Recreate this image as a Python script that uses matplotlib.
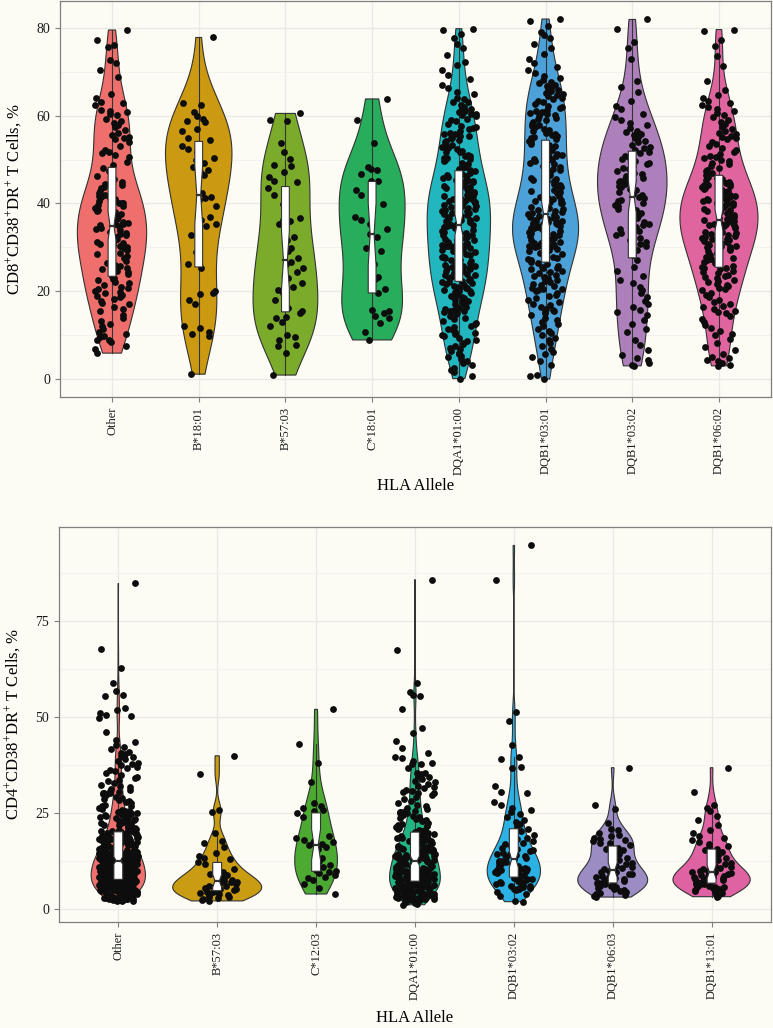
"""
Violin + notched box + jitter plots of activated T-cell percentages by HLA allele.
"""
import numpy as np
import matplotlib
matplotlib.use("Agg")
import matplotlib.pyplot as plt

plt.rcParams["font.family"] = ["Liberation Serif", "DejaVu Serif"]
plt.rcParams["mathtext.fontset"] = "custom"
plt.rcParams["mathtext.rm"] = "Liberation Serif"
plt.rcParams["mathtext.it"] = "Liberation Serif:italic"

# ---------------------------------------------------------------- data (top)
top_labels = ["Other", "B*18:01", "B*57:03", "C*18:01",
              "DQA1*01:00", "DQB1*03:01", "DQB1*03:02", "DQB1*06:02"]
top_colors = ["#ee6f6b", "#cc9a10", "#7bab2b", "#27ad5b",
              "#22b6bf", "#4ca1d9", "#ad80bb", "#e0659f"]

top_other = [79.5, 77.2, 76.1, 75.6, 72.6, 72.0, 70.3, 68.8, 65.0,
             64.1, 63.2, 62.8, 62.5, 61.3, 61.0, 60.8, 60.4, 60.2,
             59.3, 58.8, 58.4, 57.9, 57.4, 56.8, 56.0, 55.6, 55.2, 55.0,
             54.6, 54.1, 53.0, 52.2, 51.8, 51.5, 51.0, 50.5,
             49.4, 48.8, 48.0, 47.4, 46.2, 45.6,
             44.8, 44.5, 44.1, 43.8, 43.2, 42.9, 42.4, 42.0, 41.7, 41.5, 41.2,
             40.9, 40.6, 40.4, 40.2, 40.0, 40.1, 43.5,
             39.6, 39.3, 39.0, 38.6, 38.3, 38.0, 37.6, 37.2, 36.8, 36.5, 36.1,
             35.8, 35.6, 35.4, 35.2, 35.0,
             34.8, 34.5, 34.2, 33.9, 33.6, 33.3, 33.0, 32.7, 32.4, 32.1, 31.8,
             31.5, 31.2, 31.0, 30.8, 30.6, 30.4, 30.3, 30.2, 30.1,
             29.8, 29.5, 29.1, 28.8, 28.4, 28.0, 27.6, 27.2, 26.8, 26.4, 26.0,
             25.7, 25.4, 25.1,
             24.7, 24.3, 23.9, 23.5, 23.1, 22.8, 22.5, 22.1, 21.8, 21.4, 21.0,
             20.7, 20.4, 20.1,
             19.8, 19.5, 19.2, 18.9, 18.6, 18.2, 17.8, 17.4, 17.0, 16.5, 16.0, 15.4,
             14.5, 13.8, 13.2, 12.6, 12.1, 11.5, 10.8, 10.2,
             9.8, 9.5, 9.0, 8.8, 8.4, 7.6, 6.8, 5.9]
top_b1801 = [77.8, 62.8, 62.4, 60.8, 60.0, 59.3, 58.8, 58.5, 57.0, 56.6, 54.8,
             54.5, 53.0, 52.5, 51.8, 50.3, 49.8, 49.2, 48.4, 47.5, 46.9, 46.5,
             42.3, 41.5, 41.2, 40.8, 39.3, 37.0, 36.3, 35.2, 34.8, 32.9, 29.0,
             26.2, 25.3, 20.0, 19.6, 19.3, 18.0, 17.0, 12.1, 11.7, 10.6, 10.2,
             9.9, 1.1]
top_b5703 = [60.5, 59.0, 58.7, 53.7, 51.6, 50.2, 48.7, 48.5, 47.2, 46.0, 45.1,
             44.9, 43.5, 42.0, 39.9, 36.6, 36.2, 36.0, 35.3, 32.3, 31.7, 29.8,
             29.2, 27.5, 26.7, 26.1, 25.2, 24.4, 22.9, 21.8, 21.0, 20.2, 19.5,
             17.9, 16.1, 15.4, 15.0, 14.2, 13.9, 13.1, 12.1, 10.1, 9.5, 8.9,
             7.8, 7.5, 6.0, 0.9]
top_c1801 = [63.8, 59.0, 53.7, 48.2, 47.8, 47.6, 46.7, 45.1, 45.0, 43.0, 41.9,
             39.9, 36.9, 36.2, 35.4, 34.1, 33.0, 32.3, 29.8, 29.2, 26.1, 23.3,
             22.7, 20.5, 19.6, 15.7, 15.4, 15.0, 14.4, 13.8, 12.8, 10.8, 8.9]
top_dqa1 = [79.8, 79.4, 78.7, 77.6, 76.4, 75.3, 73.9, 72.3, 71.5, 70.4,
            69.2, 68.4, 67.0, 66.3, 65.4,
            64.9, 64.1, 63.8, 63.2, 63.1, 62.4, 62.0, 61.7, 61.4, 61.1, 60.9,
            60.4, 60.3, 60.1,
            59.8, 59.3, 58.9, 58.8, 58.1, 57.6, 57.3, 57.2, 56.6, 56.1, 55.9,
            55.8, 55.4, 55.3, 55.0, 56.9,
            54.8, 54.4, 54.2, 53.9, 53.3, 53.1, 52.6, 52.5, 52.0, 51.7, 51.6,
            51.1, 50.9, 50.8, 50.4, 50.3, 50.1, 52.9,
            49.8, 49.6, 49.2, 49.0, 48.7, 48.3, 48.2, 47.8, 47.5, 47.3, 46.9,
            46.8, 46.4, 46.2, 46.1, 45.7, 45.6, 45.3, 45.2, 45.0,
            44.9, 44.8, 44.5, 44.3, 44.2, 43.9, 43.8, 43.6, 43.4, 43.3, 43.0,
            42.9, 42.7, 42.5, 42.4, 42.1, 42.0, 41.8, 41.7, 41.4, 41.3, 41.1,
            41.0, 40.9, 40.7, 40.6, 40.5, 40.3, 40.3, 40.2, 40.1, 40.0,
            39.9, 39.6, 39.5, 39.4, 39.1, 39.0, 38.7, 38.6, 38.3, 38.2, 37.9,
            37.8, 37.5, 37.4, 37.1, 37.0, 36.7, 36.6, 36.3, 36.2, 35.9, 35.8,
            35.7, 35.6, 35.4, 35.4, 35.3, 35.1, 35.1, 35.0,
            34.9, 34.6, 34.5, 34.1, 34.0, 33.7, 33.6, 33.3, 33.2, 32.9, 32.8,
            32.5, 32.4, 32.1, 32.0, 31.7, 31.6, 31.3, 31.2, 31.0, 30.9, 30.8,
            30.7, 30.5, 30.5, 30.4, 30.3, 30.2, 30.1, 30.0,
            29.8, 29.6, 29.3, 29.1, 28.9, 28.6, 28.4, 28.2, 27.9, 27.7, 27.5,
            27.2, 27.0, 26.8, 26.6, 26.4, 26.2, 26.0, 25.8, 25.7, 25.5, 25.4,
            25.3, 25.2, 25.1, 25.0,
            24.9, 24.7, 24.5, 24.2, 24.0, 23.8, 23.6, 23.4, 23.2, 23.0, 22.8,
            22.6, 22.4, 22.2, 22.0, 21.8, 21.6, 21.4, 21.2, 21.0, 20.8, 20.7,
            20.5, 20.4, 20.3, 20.1, 20.0,
            19.8, 19.5, 19.2, 19.0, 18.7, 18.4, 18.1, 17.8, 17.5, 17.3, 17.0,
            16.8, 16.5, 16.2, 16.0, 15.8, 15.6, 15.4, 15.2, 15.0,
            14.7, 14.3, 13.9, 13.6, 13.2, 12.8, 12.5, 12.1, 11.8, 11.4, 11.1,
            10.8, 10.5, 10.3, 10.0,
            9.7, 9.3, 8.9, 8.6, 8.2, 7.9, 7.5, 7.1, 6.8, 6.4, 6.0, 5.7, 5.3, 5.0,
            4.6, 4.1, 3.6, 3.1, 2.6, 2.1, 1.5, 0.8, 0.1]
top_dqb0301 = [82.0, 81.6, 80.4, 79.1, 78.4, 77.6, 76.2, 75.3,
               74.1, 72.8, 71.9, 71.0, 70.3,
               69.6, 69.0, 68.6, 68.1, 67.7, 67.4, 67.0, 66.7, 66.3, 66.0, 65.8,
               65.5, 65.2, 65.0,
               64.8, 64.5, 64.1, 63.8, 63.4, 63.0, 62.7, 62.3, 62.0, 61.7, 61.3,
               61.0, 60.8, 60.5, 60.3, 60.1,
               59.8, 59.5, 59.2, 58.9, 58.5, 58.2, 57.9, 57.6, 57.3, 57.0, 56.7,
               56.4, 56.1, 55.8, 55.6, 55.4, 55.2, 55.0,
               54.7, 54.3, 54.0, 53.6, 53.3, 53.0, 52.6, 52.2, 51.9, 51.6, 51.3,
               51.0, 50.7, 50.5, 50.2, 50.0,
               49.7, 49.3, 49.0, 48.6, 48.2, 47.9, 47.5, 47.1, 46.8, 46.5, 46.2,
               45.9, 45.6, 45.4, 45.2, 45.0,
               44.8, 44.5, 44.2, 44.0, 43.7, 43.4, 43.1, 42.8, 42.5, 42.3, 42.0,
               41.8, 41.5, 41.3, 41.0, 40.8, 40.6, 40.4, 40.2, 40.0,
               39.8, 39.6, 39.4, 39.2, 39.0, 38.7, 38.5, 38.3, 38.0, 37.8, 37.6,
               37.4, 37.2, 37.0, 36.8, 36.6, 36.4, 36.2, 36.0, 35.9, 35.8, 35.7,
               35.6, 35.5, 35.4, 35.3, 35.2, 35.1, 35.0, 35.0,
               34.9, 34.7, 34.5, 34.3, 34.1, 33.9, 33.7, 33.5, 33.3, 33.1, 32.9,
               32.7, 32.5, 32.3, 32.1, 31.9, 31.7, 31.5, 31.3, 31.1, 30.9, 30.8,
               30.7, 30.6, 30.5, 30.4, 30.3, 30.3, 30.2, 30.1, 30.0, 31.0,
               29.7, 29.4, 29.1, 28.8, 28.5, 28.2, 27.9, 27.6, 27.3, 27.0, 26.7,
               26.4, 26.1, 25.8, 25.6, 25.4, 25.2, 25.0,
               24.7, 24.4, 24.1, 23.8, 23.5, 23.2, 22.9, 22.6, 22.3, 22.0, 21.7,
               21.4, 21.1, 20.8, 20.6, 20.4, 20.2, 20.0,
               19.6, 19.2, 18.8, 18.4, 18.0, 17.6, 17.2, 16.8, 16.4, 16.0, 15.7,
               15.4, 15.2, 15.0,
               14.5, 14.0, 13.5, 13.0, 12.5, 12.0, 11.5, 11.0, 10.5, 10.0,
               9.4, 8.8, 8.1, 7.5, 6.9, 6.2, 5.6, 5.0,
               4.2, 3.3, 1.0, 0.8, 0.0]
top_dqb0302 = [81.9, 79.8, 76.8, 75.5, 73.0, 67.9, 66.5, 65.3,
               63.4, 62.1, 61.5, 60.4,
               59.7, 59.0, 58.4, 57.8, 57.1, 56.6, 56.2, 55.8, 55.5, 55.1,
               54.8, 54.2, 53.9, 53.4, 52.9, 52.6, 52.1, 51.7, 51.4, 50.9, 50.6, 50.2,
               49.7, 49.3, 49.0, 48.6, 48.1, 47.8, 47.4, 47.0, 46.6, 46.3, 45.9,
               45.6, 45.4, 45.1,
               44.8, 44.4, 44.0, 43.7, 43.3, 43.0, 42.6, 42.2, 41.9, 41.5, 41.2,
               40.8, 40.5, 40.2,
               39.7, 39.3, 38.8, 38.4, 37.9, 37.5, 37.1, 36.6, 36.2, 35.8, 35.4, 35.1,
               34.7, 34.2, 33.7, 33.2, 32.7, 32.2, 31.7, 31.2, 30.7, 30.2,
               29.3, 28.2, 27.0, 25.6,
               24.5, 23.5, 22.6, 21.8, 21.0, 20.3,
               19.5, 18.6, 17.8, 17.1, 16.4, 15.8, 15.2,
               14.5, 13.5, 12.5, 11.5, 10.6,
               9.0, 7.8, 6.6, 5.4,
               4.8, 4.3, 3.7, 3.2, 3.0]
top_dqb0602 = [79.6, 79.3, 77.2, 75.8, 73.6, 71.2, 67.8, 65.9,
               64.6, 64.0, 63.4, 62.9, 62.5, 62.0, 61.6, 61.1, 60.6, 60.2,
               59.6, 59.0, 58.5, 58.0, 57.4, 56.9, 56.5, 56.0, 55.7, 55.4, 55.2, 55.0,
               54.6, 54.1, 53.6, 53.1, 52.6, 52.2, 51.7, 51.3, 50.9, 50.6, 50.3, 50.0,
               49.7, 49.3, 48.9, 48.5, 48.1, 47.7, 47.3, 46.9, 46.5, 46.1, 45.8,
               45.5, 45.3, 45.1,
               44.9, 44.7, 44.5, 44.3, 44.1, 43.9, 43.7, 43.5, 43.3, 43.1, 42.9,
               42.7, 42.5, 42.3, 42.1, 41.9, 41.7, 41.5, 41.3, 41.1, 40.9, 40.7,
               40.5, 40.3, 40.2, 40.0,
               39.8, 39.6, 39.5, 39.3, 39.1, 38.9, 38.7, 38.5, 38.3, 38.1, 37.9,
               37.7, 37.5, 37.3, 37.1, 36.9, 36.7, 36.5, 36.3, 36.1, 35.9, 35.7,
               35.5, 35.4, 35.3, 35.2, 35.1, 35.0,
               34.8, 34.6, 34.4, 34.2, 34.0, 33.8, 33.6, 33.4, 33.2, 33.0, 32.8,
               32.6, 32.4, 32.2, 32.0, 31.8, 31.6, 31.4, 31.2, 31.0, 30.8, 30.6,
               30.4, 30.3, 30.1, 30.0,
               29.7, 29.4, 29.1, 28.8, 28.5, 28.2, 27.9, 27.6, 27.3, 27.0, 26.7,
               26.4, 26.1, 25.8, 25.6, 25.4, 25.2, 25.0,
               24.7, 24.4, 24.1, 23.8, 23.5, 23.2, 22.9, 22.6, 22.3, 22.0, 21.7,
               21.4, 21.1, 20.8, 20.5, 20.2,
               19.6, 19.1, 18.6, 18.1, 17.6, 17.1, 16.7, 16.3, 15.9, 15.6, 15.3, 15.0,
               14.4, 13.7, 13.0, 12.3, 11.6, 10.9, 10.3, 10.0,
               9.1, 8.2, 7.3, 6.5, 5.8, 5.1,
               4.8, 4.4, 4.0, 3.6, 3.3, 3.0]

# ------------------------------------------------------------- data (bottom)
bot_labels = ["Other", "B*57:03", "C*12:03", "DQA1*01:00",
              "DQB1*03:02", "DQB1*06:03", "DQB1*13:01"]
bot_colors = ["#ef716e", "#c99c12", "#4caa33", "#22b583",
              "#2bb1e4", "#9b8dc4", "#df62a3"]

bot_other = [84.7, 67.5, 62.8, 58.9, 56.8, 55.7, 55.5, 52.3, 51.8, 50.9, 50.4,
             50.1, 49.6, 46.0, 43.9, 43.5, 42.6, 42.1, 41.5, 40.9, 40.5, 40.2,
             39.8, 39.4, 38.9, 38.5, 38.0, 37.6, 37.3, 37.0, 36.6, 36.2, 35.8, 35.3,
             34.8, 34.4, 34.0, 33.6, 33.2, 32.8, 32.3, 31.9, 31.6, 31.2, 30.9,
             30.6, 30.4, 30.2, 30.1, 30.0,
             29.8, 29.5, 29.2, 28.9, 28.6, 28.3, 28.0, 27.7, 27.4, 27.1, 26.8,
             26.6, 26.3, 26.1, 25.9, 25.7, 25.5, 25.4, 25.3, 25.2, 25.1, 25.0,
             24.9, 24.7, 24.5, 24.4, 24.2, 24.0, 23.9, 23.7, 23.5, 23.4, 23.2,
             23.0, 22.9, 22.7, 22.5, 22.4, 22.2, 22.0, 21.9, 21.7, 21.5, 21.4,
             21.2, 21.0, 20.9, 20.7, 20.6, 20.4, 20.3, 20.2, 20.1, 20.0, 20.0, 20.1,
             19.9, 19.8, 19.7, 19.6, 19.5, 19.4, 19.3, 19.2, 19.1, 19.0, 18.9,
             18.8, 18.7, 18.6, 18.5, 18.4, 18.3, 18.2, 18.1, 18.0, 17.9, 17.8,
             17.7, 17.6, 17.5, 17.4, 17.3, 17.2, 17.1, 17.0, 16.9, 16.8, 16.7,
             16.6, 16.5, 16.4, 16.3, 16.2, 16.1, 16.0, 15.9, 15.8, 15.7, 15.6,
             15.5, 15.4, 15.3, 15.2, 15.1, 15.0, 15.5, 16.5, 17.5, 18.5, 19.5,
             14.95, 14.9, 14.8, 14.75, 14.7, 14.6, 14.5, 14.45, 14.4, 14.3, 14.2,
             14.15, 14.1, 14.0, 13.9, 13.85, 13.8, 13.7, 13.6, 13.55, 13.5, 13.4,
             13.3, 13.25, 13.2, 13.1, 13.0, 12.95, 12.9, 12.8, 12.7, 12.65, 12.6,
             12.5, 12.4, 12.35, 12.3, 12.2, 12.1, 12.05, 12.0, 11.9, 11.8, 11.75,
             11.7, 11.6, 11.5, 11.45, 11.4, 11.3, 11.2, 11.15, 11.1, 11.0, 10.9,
             10.85, 10.8, 10.7, 10.6, 10.55, 10.5, 10.4, 10.3, 10.25, 10.2, 10.1,
             10.0, 10.05, 10.15, 10.35, 10.45, 10.65, 10.75, 10.95, 11.05, 11.25,
             11.35, 11.55, 11.65, 11.85, 11.95, 12.15, 12.25, 12.45, 12.55, 12.75,
             12.85, 13.05, 13.15, 13.35, 13.45, 13.65, 13.75, 13.95, 14.05, 14.25,
             14.35, 14.55, 14.65, 14.85,
             9.95, 9.9, 9.85, 9.8, 9.75, 9.7, 9.65, 9.6, 9.55, 9.5, 9.45, 9.4,
             9.35, 9.3, 9.25, 9.2, 9.15, 9.1, 9.05, 9.0, 8.95, 8.9, 8.85, 8.8,
             8.75, 8.7, 8.65, 8.6, 8.55, 8.5, 8.45, 8.4, 8.35, 8.3, 8.25, 8.2,
             8.15, 8.1, 8.05, 8.0, 7.95, 7.9, 7.85, 7.8, 7.75, 7.7, 7.65, 7.6,
             7.55, 7.5, 7.45, 7.4, 7.35, 7.3, 7.25, 7.2, 7.15, 7.1, 7.05, 7.0,
             6.95, 6.9, 6.85, 6.8, 6.75, 6.7, 6.65, 6.6, 6.55, 6.5, 6.45, 6.4,
             6.35, 6.3, 6.25, 6.2, 6.15, 6.1, 6.05, 6.0, 5.95, 5.9, 5.85, 5.8,
             5.75, 5.7, 5.65, 5.6, 5.55, 5.5, 5.45, 5.4, 5.35, 5.3, 5.25, 5.2,
             5.15, 5.1, 5.05, 5.0, 9.62, 9.12, 8.62, 8.12, 7.62, 7.12, 6.62,
             6.12, 5.62, 5.12, 8.88, 7.88, 6.88,
             4.95, 4.9, 4.8, 4.7, 4.6, 4.5, 4.4, 4.3, 4.2, 4.1, 4.0, 3.9, 3.8,
             3.7, 3.6, 3.5, 3.4, 3.3, 3.2, 3.1, 3.0, 2.9, 2.8, 2.7, 2.6, 2.5,
             2.4, 2.3, 2.2, 2.1, 2.0, 4.85, 4.55, 4.25, 3.95, 3.65, 3.35, 3.05,
             2.75, 2.45, 2.15, 2.05, 4.75, 4.15, 3.55, 2.95]
bot_b5703 = [39.8, 35.0, 25.6, 25.2, 19.6, 17.6, 17.2, 16.1, 14.6, 13.8, 13.1,
             12.8, 12.2, 11.5, 10.8, 10.3, 9.9, 9.6, 9.1, 8.8, 8.4, 8.0, 7.7,
             7.5, 7.3, 7.1, 6.9, 6.8, 6.6, 6.3, 6.0, 5.8, 5.6, 5.4, 5.2, 5.0,
             4.8, 4.6, 4.4, 4.2, 4.0, 3.8, 3.6, 3.4, 3.1, 2.9, 2.7, 2.5, 2.2, 2.0]
bot_c1203 = [51.9, 42.8, 37.9, 33.1, 27.5, 26.6, 26.2, 25.7, 25.3, 24.8, 23.8,
             18.8, 18.3, 17.9, 17.6, 17.4, 17.2, 16.8, 16.5, 16.1, 15.4, 13.2,
             12.4, 11.4, 10.8, 10.1, 9.8, 9.5, 9.2, 8.8, 8.3, 7.9, 7.5, 6.5,
             5.3, 3.8]
bot_dqa1 = [85.7, 67.4, 58.9, 56.4, 55.7, 55.5, 51.9, 47.0, 45.8, 43.6, 41.9,
            40.6, 39.5, 39.3, 38.4, 37.8, 37.7, 37.6, 36.5, 35.3, 35.2, 35.1,
            34.6, 34.2, 33.8, 33.3, 32.9, 32.5, 32.0, 31.6, 31.3, 30.9, 30.6,
            30.4, 30.2, 30.0,
            29.6, 29.0, 28.5, 28.0, 27.5, 27.1, 26.7, 26.3, 25.9, 25.6, 25.4,
            25.2, 25.1, 25.0,
            24.8, 24.5, 24.2, 23.9, 23.6, 23.3, 23.0, 22.7, 22.4, 22.1, 21.8,
            21.5, 21.3, 21.0, 20.8, 20.6, 20.4, 20.2, 20.1, 20.0,
            19.9, 19.7, 19.5, 19.3, 19.1, 18.9, 18.7, 18.5, 18.3, 18.1, 17.9,
            17.7, 17.5, 17.3, 17.1, 16.9, 16.7, 16.5, 16.3, 16.1, 15.9, 15.8,
            15.7, 15.6, 15.5, 15.4, 15.3, 15.2, 15.1, 15.0, 16.0, 17.0, 18.0,
            19.0, 16.6, 17.6, 18.6, 19.6, 15.35, 15.65,
            14.9, 14.8, 14.7, 14.6, 14.5, 14.4, 14.3, 14.2, 14.1, 14.0, 13.9,
            13.8, 13.7, 13.6, 13.5, 13.4, 13.3, 13.2, 13.1, 13.0, 12.9, 12.8,
            12.7, 12.6, 12.5, 12.4, 12.3, 12.2, 12.1, 12.0, 11.9, 11.8, 11.7,
            11.6, 11.5, 11.4, 11.3, 11.2, 11.1, 11.0, 10.9, 10.8, 10.7, 10.6,
            10.5, 10.4, 10.3, 10.2, 10.1, 10.0, 10.55, 11.05, 11.55, 12.05,
            12.55, 13.05, 13.55, 14.05, 14.55, 10.25,
            9.9, 9.8, 9.7, 9.6, 9.5, 9.4, 9.3, 9.2, 9.1, 9.0, 8.9, 8.8, 8.7,
            8.6, 8.5, 8.4, 8.3, 8.2, 8.1, 8.0, 7.9, 7.8, 7.7, 7.6, 7.5, 7.4,
            7.3, 7.2, 7.1, 7.0, 6.9, 6.8, 6.7, 6.6, 6.5, 6.4, 6.3, 6.2, 6.1,
            6.0, 5.9, 5.8, 5.7, 5.6, 5.5, 5.4, 5.3, 5.2, 5.1, 5.0, 9.45, 8.95,
            8.45, 7.95, 7.45, 6.95, 6.45, 5.95, 5.45, 5.05, 9.25, 8.25, 7.25,
            6.25, 5.25, 9.75, 8.75, 7.75, 6.75, 5.75, 7.15, 6.05,
            4.9, 4.8, 4.7, 4.6, 4.5, 4.4, 4.3, 4.2, 4.1, 4.0, 3.9, 3.8, 3.7,
            3.6, 3.5, 3.4, 3.3, 3.2, 3.1, 3.0, 2.9, 2.8, 2.7, 2.6, 2.5, 2.4,
            2.3, 2.2, 2.1, 2.0, 1.8, 1.6, 1.4, 1.2, 1.0, 4.65, 3.85, 3.05]
bot_dqb0302 = [94.6, 85.7, 51.2, 48.8, 42.7, 39.5, 39.1, 36.9, 36.5, 31.9, 30.5,
               30.0, 27.8, 26.9, 26.2, 25.6, 25.2, 24.6, 23.9, 23.0, 22.5, 22.1,
               21.4, 20.8, 20.3,
               19.6, 19.1, 18.5, 18.0, 17.6, 17.1, 16.7, 16.3, 15.9, 15.6, 15.3, 15.0,
               14.8, 14.6, 14.3, 14.1, 13.9, 13.7, 13.4, 13.2, 13.0, 12.8, 12.5,
               12.3, 12.1, 11.9, 11.6, 11.4, 11.2, 11.0, 10.8, 10.6, 10.4, 10.3,
               10.1, 10.0,
               9.8, 9.6, 9.4, 9.2, 9.0, 8.8, 8.6, 8.4, 8.2, 8.0, 7.8, 7.6, 7.4,
               7.2, 7.0, 6.8, 6.6, 6.4, 6.2, 6.0, 5.8, 5.6, 5.4, 5.3, 5.1, 5.0,
               4.8, 4.4, 3.9, 3.2, 1.9, 1.8]
bot_dqb0603 = [36.7, 26.9, 26.0, 22.4, 20.8, 20.5,
               19.6, 19.2, 18.8, 18.5, 18.1, 17.8, 17.5, 17.2, 17.0, 16.6, 16.2,
               15.9, 15.5, 15.2,
               14.6, 14.1, 13.6, 13.2, 12.7, 12.3, 11.9, 11.5, 11.1, 10.8, 10.5, 10.2,
               9.8, 9.6, 9.4, 9.1, 8.9, 8.7, 8.5, 8.3, 8.1, 7.9, 7.7, 7.5, 7.3,
               7.1, 6.9, 6.7, 6.6, 6.4, 6.2, 6.0, 5.8, 5.6, 5.4, 5.2,
               4.9, 4.6, 4.3, 4.0, 3.7, 3.5, 3.2, 3.0]
bot_dqb1301 = [36.7, 30.4, 27.0, 26.1, 25.3, 24.1, 23.0, 21.8, 20.6,
               19.6, 19.0, 18.4, 17.9, 17.4, 16.9, 16.4, 16.0, 15.6, 15.2,
               14.7, 14.3, 13.9, 13.5, 13.1, 12.7, 12.3, 11.9, 11.5, 11.1, 10.8,
               10.5, 10.2,
               9.9, 9.7, 9.5, 9.3, 9.1, 8.9, 8.7, 8.5, 8.3, 8.1, 7.9, 7.7, 7.5,
               7.3, 7.1, 6.9, 6.7, 6.5, 6.3, 6.1, 5.9, 5.7, 5.5, 5.4, 5.2, 5.0,
               5.6, 6.6, 7.6, 8.6, 9.6, 4.9, 4.6, 4.3, 4.0, 3.7, 3.4, 3.1]

BG = "#fcfcf4"
EDGE = "#333333"


def nrd0(v):
    """R's default bandwidth rule."""
    q75, q25 = np.percentile(v, [75, 25])
    s = min(np.std(v, ddof=1), (q75 - q25) / 1.34)
    return 0.9 * s * len(v) ** -0.2


def violin_density(v):
    v = np.asarray(v, float)
    grid = np.linspace(v.min(), v.max(), 512)
    bw = nrd0(v)
    d = np.exp(-0.5 * ((grid[:, None] - v[None, :]) / bw) ** 2).sum(1)
    d /= len(v) * bw * np.sqrt(2 * np.pi)
    return grid, d


def jitter(n, width=0.4):
    # fixed hash-style offsets so the output never changes between runs
    i = np.arange(n) + 1.0
    frac = np.modf(np.sin(i * 12.9898) * 43758.5453)[0]
    return (np.abs(frac) - 0.5) * width


def draw_panel(ax, labels, groups, colors, ylim, major, minor, ylabel):
    ax.set_facecolor(BG)
    dens = [violin_density(g) for g in groups]
    dmax = max(d.max() for _, d in dens)
    box_w = 0.045
    for i, (vals, (grid, d), col) in enumerate(zip(groups, dens, colors)):
        x = i + 1
        v = np.asarray(vals, float)
        half = 0.45 * d / dmax
        ax.fill(np.concatenate([x - half, (x + half)[::-1]]),
                np.concatenate([grid, grid[::-1]]),
                facecolor=col, edgecolor=EDGE, linewidth=0.8, zorder=2)

        q1, med, q3 = np.percentile(v, [25, 50, 75])
        iqr = q3 - q1
        lo = v[v >= q1 - 1.5 * iqr].min()
        hi = v[v <= q3 + 1.5 * iqr].max()
        ax.plot([x, x], [lo, q1], color=EDGE, lw=0.8, zorder=2.5)
        ax.plot([x, x], [q3, hi], color=EDGE, lw=0.8, zorder=2.5)

        ax.scatter(x + jitter(len(v)), v, s=24, color="#0d0d0d",
                   linewidths=0, zorder=3)

        notch = 1.58 * iqr / np.sqrt(len(v))
        nl, nu = med - notch, med + notch
        bx = [x - box_w, x + box_w, x + box_w, x + box_w / 2, x + box_w,
              x + box_w, x - box_w, x - box_w, x - box_w / 2, x - box_w]
        by = [q1, q1, nl, med, nu, q3, q3, nu, med, nl]
        ax.fill(bx, by, facecolor="white", edgecolor=EDGE,
                linewidth=0.8, zorder=4)
        ax.plot([x - box_w / 2, x + box_w / 2], [med, med],
                color=EDGE, lw=1.6, zorder=5)

    ax.set_xlim(0.4, len(groups) + 0.6)
    ax.set_ylim(*ylim)
    ax.set_xticks(np.arange(1, len(groups) + 1))
    ax.set_xticklabels(labels, rotation=90, fontsize=9, color="#1a1a1a")
    ax.set_yticks(major)
    ax.set_yticks(minor, minor=True)
    ax.tick_params(axis="y", labelsize=10, colors="#7f7f7f", labelcolor="#1a1a1a",
                   length=3.5, width=0.8, which="major")
    ax.tick_params(axis="x", colors="#7f7f7f", labelcolor="#1a1a1a",
                   length=3.5, width=0.8)
    ax.tick_params(axis="y", which="minor", length=0)
    ax.grid(True, which="major", color="#e9e9e6", linewidth=0.9, zorder=0)
    ax.grid(True, which="minor", axis="y", color="#f1f1ee", linewidth=0.6, zorder=0)
    ax.set_axisbelow(True)
    for sp in ax.spines.values():
        sp.set_color("#7f7f7f")
        sp.set_linewidth(0.9)
    ax.set_xlabel("HLA Allele", fontsize=12)
    ax.set_ylabel(ylabel, fontsize=12)
    ax.yaxis.set_label_coords(-0.05, 0.5)
    ax.xaxis.set_label_coords(0.5, -0.205)


fig = plt.figure(figsize=(7.73, 10.28), dpi=100, facecolor=BG)
ax1 = fig.add_axes([0.0776, 0.6138, 0.9198, 0.3852])
ax2 = fig.add_axes([0.0763, 0.1031, 0.9210, 0.3842])

draw_panel(ax1, top_labels,
           [top_other, top_b1801, top_b5703, top_c1801,
            top_dqa1, top_dqb0301, top_dqb0302, top_dqb0602],
           top_colors, (-4.1, 86.1), [0, 20, 40, 60, 80], [10, 30, 50, 70],
           r"CD8$^{+}$CD38$^{+}$DR$^{+}$ T Cells, %")
draw_panel(ax2, bot_labels,
           [bot_other, bot_b5703, bot_c1203, bot_dqa1,
            bot_dqb0302, bot_dqb0603, bot_dqb1301],
           bot_colors, (-3.5, 99.4), [0, 25, 50, 75], [12.5, 37.5, 62.5, 87.5],
           r"CD4$^{+}$CD38$^{+}$DR$^{+}$ T Cells, %")
ax2.xaxis.set_label_coords(0.5, -0.222)

fig.savefig("out.png", dpi=100, facecolor=BG)
